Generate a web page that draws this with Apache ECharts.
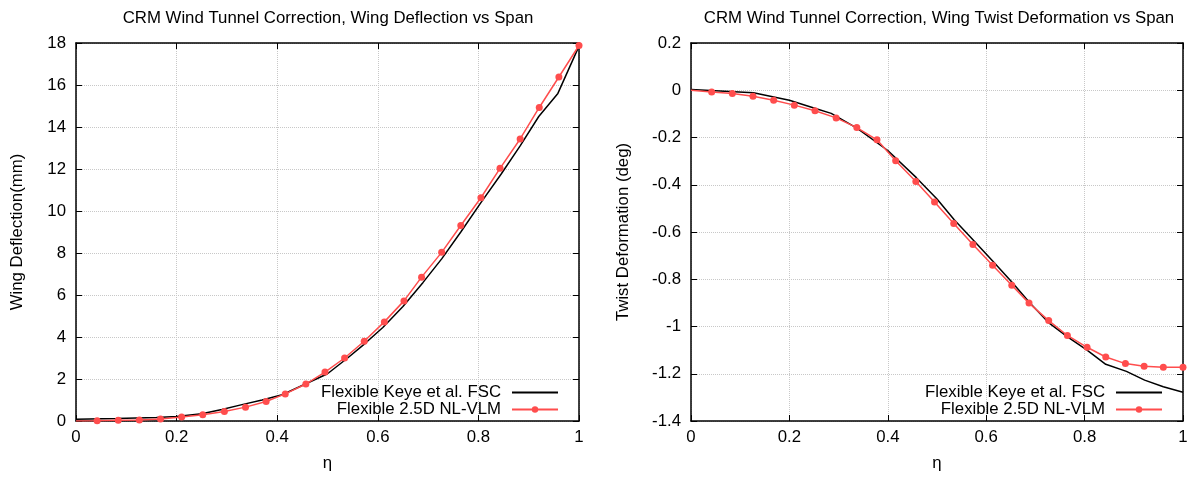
<!DOCTYPE html>
<html>
<head>
<meta charset="utf-8">
<script src="https://cdn.jsdelivr.net/npm/echarts@6/dist/echarts.min.js"></script>
<style>
html,body{margin:0;padding:0;background:#fff;}
#c{width:1191px;height:477px;}
</style>
</head>
<body>
<div id="c"></div>
<script>
// ---- data ----
const leftTitle = 'CRM Wind Tunnel Correction, Wing Deflection vs Span';
const rightTitle = 'CRM Wind Tunnel Correction, Wing Twist Deformation vs Span';
const seriesNames = ['Flexible Keye et al. FSC', 'Flexible 2.5D NL-VLM'];

// NL-VLM stations (shared by both panels)
const etaVLM = [0, 0.042, 0.084, 0.126, 0.168, 0.210, 0.252, 0.295, 0.337, 0.378, 0.416, 0.457, 0.495, 0.534, 0.573, 0.613, 0.652, 0.687, 0.727, 0.765, 0.805, 0.843, 0.883, 0.921, 0.960, 1.0];
const deflVLM = [0, 0.01, 0.03, 0.05, 0.10, 0.19, 0.30, 0.45, 0.66, 0.93, 1.29, 1.76, 2.33, 3.00, 3.80, 4.72, 5.72, 6.85, 8.03, 9.31, 10.63, 12.03, 13.43, 14.93, 16.38, 17.88];
const twistVLM = [0, -0.007, -0.014, -0.025, -0.042, -0.063, -0.087, -0.117, -0.158, -0.210, -0.298, -0.386, -0.473, -0.564, -0.653, -0.741, -0.825, -0.901, -0.975, -1.038, -1.088, -1.129, -1.157, -1.168, -1.173, -1.173];

// Keye et al. FSC
const etaKeyeDefl = [0, 0.08, 0.16, 0.2, 0.25, 0.29, 0.33, 0.37, 0.41, 0.455, 0.5, 0.54, 0.575, 0.61, 0.65, 0.69, 0.727, 0.765, 0.805, 0.845, 0.883, 0.92, 0.958, 1.0];
const deflKeye = [0.08, 0.12, 0.17, 0.22, 0.35, 0.55, 0.78, 1.0, 1.25, 1.75, 2.25, 3.0, 3.7, 4.45, 5.45, 6.6, 7.72, 9.0, 10.4, 11.75, 13.1, 14.5, 15.6, 17.85];
const etaKeyeTwist = [0, 0.127, 0.2, 0.253, 0.285, 0.338, 0.4, 0.458, 0.5, 0.535, 0.574, 0.615, 0.653, 0.688, 0.728, 0.766, 0.805, 0.843, 0.885, 0.922, 0.96, 1.0];
const twistKeye = [0.003, -0.011, -0.042, -0.077, -0.098, -0.161, -0.255, -0.37, -0.46, -0.548, -0.635, -0.727, -0.814, -0.898, -0.986, -1.045, -1.1, -1.16, -1.19, -1.227, -1.255, -1.278];

// axis ranges / ticks
const xRange = {min: 0, max: 1, interval: 0.2};
const leftY = {min: 0, max: 18, interval: 2};
const rightY = {min: -1.4, max: 0.2, interval: 0.2};

// ---- build ----
const FONT = 'Liberation Sans, Arial, Helvetica, sans-serif';
const FS = 16.8;
const RED = '#ff4d4d';
const fmt = v => String(parseFloat(Number(v).toFixed(2)));
const zip = (xs, ys) => xs.map((x, i) => [x, ys[i]]);
const vlmData = ys => zip(etaVLM, ys).map((p, i) => i === 0 ? {value: p, symbol: 'none'} : p);

const grids = [
  {left: 76, top: 43, width: 503, height: 380},
  {left: 691, top: 43, width: 492, height: 380}
];

function mainX(gi, name) {
  return {
    type: 'value', gridIndex: gi, position: 'bottom', ...xRange,
    name: name, nameLocation: 'middle', nameGap: 34,
    nameTextStyle: {fontFamily: FONT, fontSize: FS, color: '#000'},
    axisLine: {show: true, onZero: false, lineStyle: {color: '#000', width: 1.5}},
    axisTick: {show: true, inside: true, length: 6, lineStyle: {color: '#000', width: 1}},
    axisLabel: {fontFamily: FONT, fontSize: FS, color: '#000', margin: 8, formatter: fmt, showMinLabel: true, showMaxLabel: true},
    splitLine: {show: true, lineStyle: {color: '#c8c8c8', type: 'dotted', width: 1}}
  };
}
function mirrorX(gi) {
  return {
    type: 'value', gridIndex: gi, position: 'top', ...xRange,
    axisLine: {show: true, onZero: false, lineStyle: {color: '#000', width: 1.5}},
    axisTick: {show: true, inside: true, length: 6, lineStyle: {color: '#000', width: 1}},
    axisLabel: {show: false}, splitLine: {show: false}
  };
}
function mainY(gi, rng, name, gap) {
  return {
    type: 'value', gridIndex: gi, position: 'left', ...rng,
    name: name, nameLocation: 'middle', nameGap: gap,
    nameTextStyle: {fontFamily: FONT, fontSize: FS, color: '#000'},
    axisLine: {show: true, onZero: false, lineStyle: {color: '#000', width: 1.5}},
    axisTick: {show: true, inside: true, length: 6, lineStyle: {color: '#000', width: 1}},
    axisLabel: {fontFamily: FONT, fontSize: FS, color: '#000', margin: 10, formatter: fmt, showMinLabel: true, showMaxLabel: true},
    splitLine: {show: true, lineStyle: {color: '#c8c8c8', type: 'dotted', width: 1}}
  };
}
function mirrorY(gi, rng) {
  return {
    type: 'value', gridIndex: gi, position: 'right', ...rng,
    axisLine: {show: true, onZero: false, lineStyle: {color: '#000', width: 1.5}},
    axisTick: {show: true, inside: true, length: 6, lineStyle: {color: '#000', width: 1}},
    axisLabel: {show: false}, splitLine: {show: false}
  };
}
function keyeSeries(xi, yi, data) {
  return {
    name: seriesNames[0], type: 'line', xAxisIndex: xi, yAxisIndex: yi,
    data: data, symbol: 'none', showSymbol: false,
    lineStyle: {color: '#000', width: 1.5}, itemStyle: {color: '#000'},
    z: 3, silent: true
  };
}
function vlmSeries(xi, yi, data) {
  return {
    name: seriesNames[1], type: 'line', xAxisIndex: xi, yAxisIndex: yi,
    data: data, symbol: 'circle', symbolSize: 7, showSymbol: true, showAllSymbol: true,
    lineStyle: {color: RED, width: 1.5}, itemStyle: {color: RED},
    z: 4, silent: true
  };
}
function legend(rightPx) {
  return {
    orient: 'vertical', align: 'right', right: rightPx, top: 384, padding: 0,
    itemWidth: 46, itemHeight: 8, itemGap: 0,
    data: [
      {name: seriesNames[0], itemStyle: {opacity: 0}},
      {name: seriesNames[1]}
    ],
    selectedMode: false,
    textStyle: {fontFamily: FONT, fontSize: FS, color: '#000', lineHeight: 17, padding: [0, 6, 0, 0]}
  };
}

const option = {
  backgroundColor: '#fff',
  animation: false,
  title: [
    {text: leftTitle, left: 328, top: 10, textAlign: 'center', padding: 0,
     textStyle: {fontFamily: FONT, fontSize: FS, fontWeight: 'normal', color: '#000'}},
    {text: rightTitle, left: 939, top: 10, textAlign: 'center', padding: 0,
     textStyle: {fontFamily: FONT, fontSize: FS, fontWeight: 'normal', color: '#000'}}
  ],
  legend: [legend(1191 - 559), legend(1191 - 1163)],
  grid: grids,
  xAxis: [mainX(0, 'η'), mirrorX(0), mainX(1, 'η'), mirrorX(1)],
  yAxis: [mainY(0, leftY, 'Wing Deflection(mm)', 50), mirrorY(0, leftY),
          mainY(1, rightY, 'Twist Deformation (deg)', 59), mirrorY(1, rightY)],
  series: [
    keyeSeries(0, 0, zip(etaKeyeDefl, deflKeye)),
    vlmSeries(0, 0, vlmData(deflVLM)),
    keyeSeries(2, 2, zip(etaKeyeTwist, twistKeye)),
    vlmSeries(2, 2, vlmData(twistVLM))
  ]
};

const chart = echarts.init(document.getElementById('c'), null, {renderer: 'canvas'});
chart.setOption(option);
</script>
</body>
</html>
